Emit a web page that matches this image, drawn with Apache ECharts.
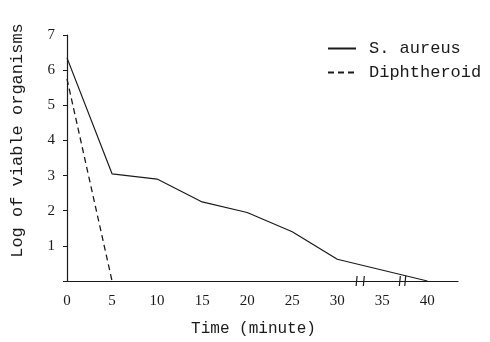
<!DOCTYPE html>
<html>
<head>
<meta charset="utf-8">
<style>html,body{margin:0;padding:0;width:490px;height:342px;background:#fff;overflow:hidden;}#chart{width:490px;height:342px;}</style>
<script src="https://cdn.jsdelivr.net/npm/echarts@6/dist/echarts.min.js"></script>
</head>
<body>
<div id="chart"></div>
<script>
// minutes after exposure
const minutes = [0, 5, 10, 15, 20, 25, 30, 40];
const aureusLog = [6.35, 3.05, 2.9, 2.25, 1.95, 1.4, 0.62, 0];
const diphMinutes = [0, 5];
const diphLog = [5.75, 0];
const xTicks = [0, 5, 10, 15, 20, 25, 30, 35, 40];
// where the axis is broken (pairs of marks)
const breakMarks = [32.2, 33.0, 37.0, 37.6];

const ink = "#1a1a1a";
const mono = "Liberation Mono";
const serif = "Liberation Serif";

const chart = echarts.init(document.getElementById("chart"), null, { renderer: "canvas" });

const option = {
  backgroundColor: "#fff",
  animation: false,
  grid: { left: 67, right: 32, top: 35, bottom: 60 },
  legend: {
    orient: "vertical",
    left: 322,
    top: 35,
    itemWidth: 28,
    itemHeight: 10,
    itemGap: 7,
    itemStyle: { opacity: 0 },
    textStyle: { fontFamily: mono, fontSize: 17, color: ink, padding: [0, 0, 0, 8] },
    data: ["S. aureus", "Diphtheroid"],
  },
  xAxis: {
    type: "value",
    min: 0,
    max: 43.4,
    interval: 5,
    splitLine: { show: false },
    axisTick: { show: false },
    axisLine: { lineStyle: { color: ink, width: 1.2 } },
    axisLabel: {
      color: ink,
      fontFamily: serif,
      fontSize: 15,
      margin: 13,
      showMaxLabel: false,
      formatter: (v) => (xTicks.includes(v) ? String(v) : ""),
    },
    name: "Time (minute)",
    nameLocation: "middle",
    nameGap: 40,
    nameTextStyle: { fontFamily: mono, fontSize: 16, color: ink, padding: [0, 18, 0, 0] },
  },
  yAxis: {
    type: "value",
    min: 0,
    max: 7,
    interval: 1,
    splitLine: { show: false },
    axisTick: { show: true, length: 4, lineStyle: { color: ink } },
    axisLine: { show: true, lineStyle: { color: ink, width: 1.2 } },
    axisLabel: {
      color: ink,
      fontFamily: serif,
      fontSize: 15,
      margin: 12,
      formatter: (v) => (v === 0 ? "" : String(v)),
    },
    name: "Log of viable organisms",
    nameLocation: "middle",
    nameGap: 41,
    nameTextStyle: { fontFamily: mono, fontSize: 17, color: ink, padding: [0, 0, 0, 35] },
  },
  series: [
    {
      name: "S. aureus",
      type: "line",
      symbol: "none",
      lineStyle: { color: ink, width: 1.2 },
      itemStyle: { color: ink },
      data: minutes.map((m, i) => [m, aureusLog[i]]),
    },
    {
      name: "Diphtheroid",
      type: "line",
      symbol: "none",
      lineStyle: { color: ink, width: 1.3, type: [6, 4] },
      itemStyle: { color: ink },
      data: diphMinutes.map((m, i) => [m, diphLog[i]]),
    },
  ],
};

chart.setOption(option);

// axis break marks
const marks = breakMarks.map((m) => {
  const p = chart.convertToPixel({ gridIndex: 0 }, [m, 0]);
  return {
    type: "line",
    shape: { x1: p[0], y1: p[1] - 5, x2: p[0] - 1, y2: p[1] + 5 },
    style: { stroke: ink, lineWidth: 1.2 },
  };
});
chart.setOption({ graphic: marks });
</script>
</body>
</html>
